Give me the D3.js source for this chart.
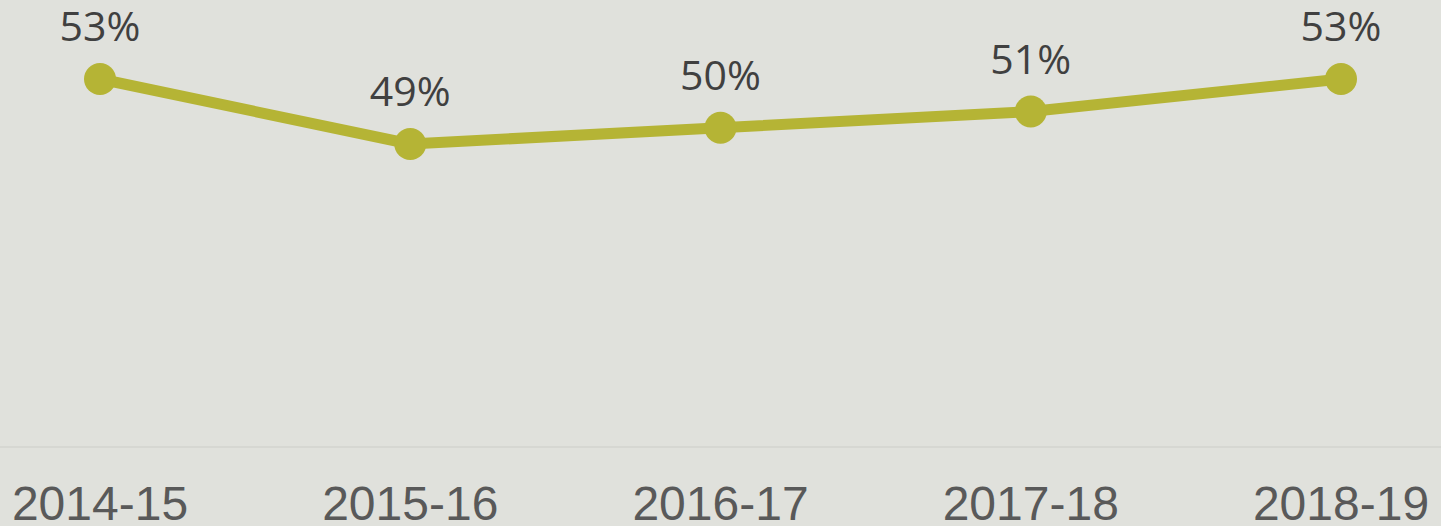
<!DOCTYPE html>
<html><head><meta charset="utf-8">
<script src="https://cdn.jsdelivr.net/npm/d3@7"></script>
<style>html,body{margin:0;padding:0;background:#e0e1dc;overflow:hidden}</style>
</head><body>
<svg id="c" width="1441" height="526"></svg>
<script>
const categories = ["2014-15","2015-16","2016-17","2017-18","2018-19"];
const values = [53, 49, 50, 51, 53];
const labels = ["53%","49%","50%","51%","53%"];

const W = 1441, H = 526;
const svg = d3.select("#c");
svg.append("rect").attr("width", W).attr("height", H).attr("fill", "#e0e1dc");

const x = d3.scalePoint().domain(categories).range([100, 1341]);
const y = d3.scaleLinear().domain([30, 55]).range([452.75, 46.5]);
const baseY = 447;

svg.append("line").attr("x1", 0).attr("x2", W).attr("y1", baseY).attr("y2", baseY)
  .attr("stroke", "#d6d7d2").attr("stroke-width", 2);

const line = d3.line().x((d, i) => x(categories[i])).y(d => y(d));
svg.append("path").datum(values).attr("d", line).attr("fill", "none")
  .attr("stroke", "#b5b435").attr("stroke-width", 11).attr("stroke-linejoin", "round");

svg.selectAll("circle.pt").data(values).join("circle").attr("class", "pt")
  .attr("cx", (d, i) => x(categories[i])).attr("cy", d => y(d)).attr("r", 16)
  .attr("fill", "#b5b435");

svg.selectAll("text.lbl").data(values).join("text").attr("class", "lbl")
  .attr("x", (d, i) => x(categories[i])).attr("y", d => y(d) - 38)
  .attr("text-anchor", "middle").attr("font-family", "'Open Sans', sans-serif")
  .attr("font-size", 41).attr("fill", "#404040").text((d, i) => labels[i]);

svg.selectAll("text.cat").data(categories).join("text").attr("class", "cat")
  .attr("x", d => x(d)).attr("y", 520)
  .attr("text-anchor", "middle").attr("font-family", "'Liberation Sans', Arial, sans-serif")
  .attr("font-size", 48).attr("fill", "#595959").text(d => d);
</script>
</body></html>
